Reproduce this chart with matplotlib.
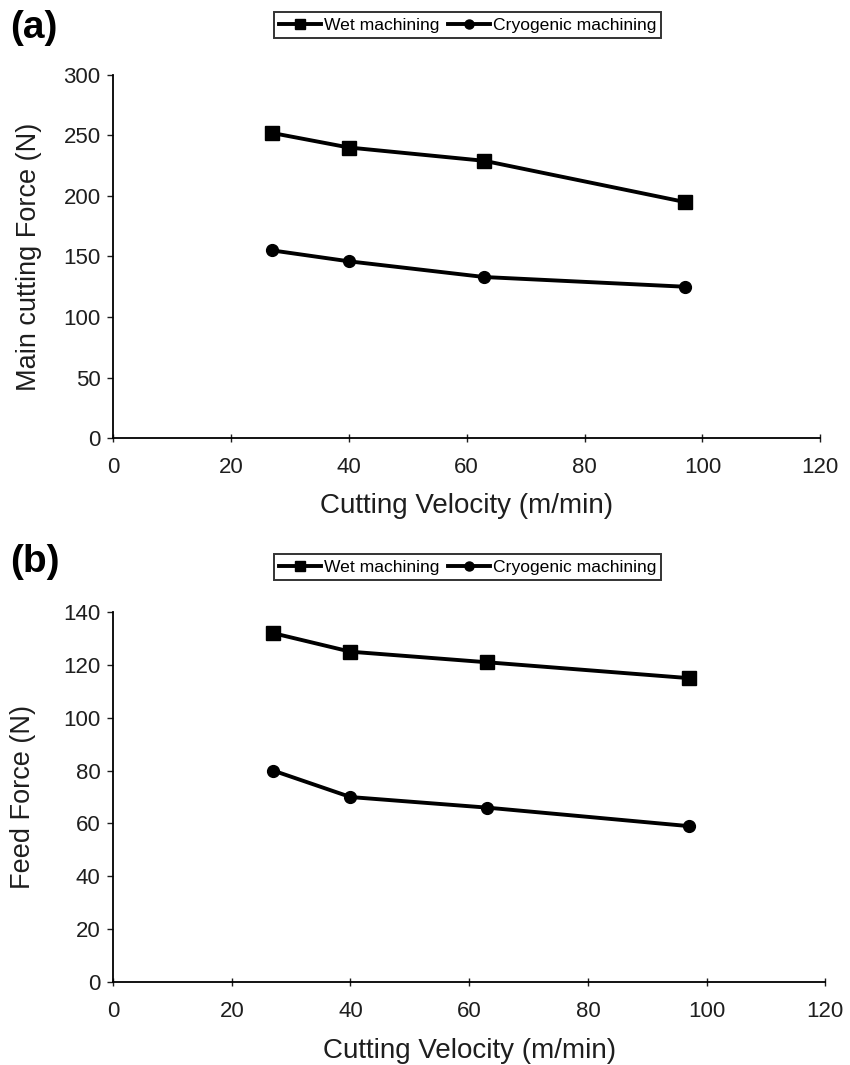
import matplotlib
matplotlib.use("Agg")
import matplotlib.pyplot as plt

plt.rcParams['font.family'] = ['Liberation Sans', 'DejaVu Sans']

velocity = [27, 40, 63, 97]

# (a) main cutting force
main_wet = [252, 240, 229, 195]
main_cryo = [155, 146, 133, 125]

# (b) feed force
feed_wet = [132, 125, 121, 115]
feed_cryo = [80, 70, 66, 59]

labels = ['Wet machining', 'Cryogenic machining']
txt = '#1e1e1e'


def panel(fig, rect, wet, cryo, ylim, yticks, ylabel, tag, tag_y, leg_y, ylab_x):
    ax = fig.add_axes(rect)
    ax.plot(velocity, wet, color='black', lw=2.8, marker='s', ms=9.5, label=labels[0])
    ax.plot(velocity, cryo, color='black', lw=2.8, marker='o', ms=8.5, label=labels[1])
    ax.set_xlim(0, 120)
    ax.set_ylim(*ylim)
    ax.set_xticks(range(0, 121, 20))
    ax.set_yticks(yticks)
    ax.spines['top'].set_visible(False)
    ax.spines['right'].set_visible(False)
    ax.spines['left'].set_linewidth(1.3)
    ax.spines['bottom'].set_linewidth(1.3)
    ax.tick_params(labelsize=16, colors=txt, width=1.0)
    ax.tick_params(axis='y', length=4, pad=5)
    ax.tick_params(axis='x', direction='inout', length=6, pad=11)
    ax.set_xlabel('Cutting Velocity (m/min)', fontsize=20, color=txt)
    ax.set_ylabel(ylabel, fontsize=19.5, color=txt)
    ax.xaxis.set_label_coords(0.5, -0.152)
    ax.yaxis.set_label_coords(ylab_x, 0.5)
    fig.text(0.012, tag_y, tag, fontsize=28, fontweight='bold', va='center')
    leg = fig.legend(handles=ax.get_lines(), loc='center', bbox_to_anchor=(0.55, leg_y),
                     ncol=2, fontsize=12.6, frameon=True, fancybox=False,
                     handlelength=2.4, handletextpad=0.15, columnspacing=0.5,
                     borderpad=0.3, edgecolor='black')
    leg.get_frame().set_linewidth(1.4)
    for h in leg.legend_handles:
        h.set_markersize(6.5)
    return ax


fig = plt.figure(figsize=(8.5, 10.65), dpi=100)

panel(fig, [0.133, 0.5887, 0.832, 0.341], main_wet, main_cryo, (0, 300),
      range(0, 301, 50), 'Main cutting Force (N)', '(a)', 0.974, 0.9765, -0.100)
panel(fig, [0.133, 0.0779, 0.838, 0.3474], feed_wet, feed_cryo, (0, 140),
      range(0, 141, 20), 'Feed Force (N)', '(b)', 0.4725, 0.4676, -0.108)

fig.savefig('out.png', dpi=100)
